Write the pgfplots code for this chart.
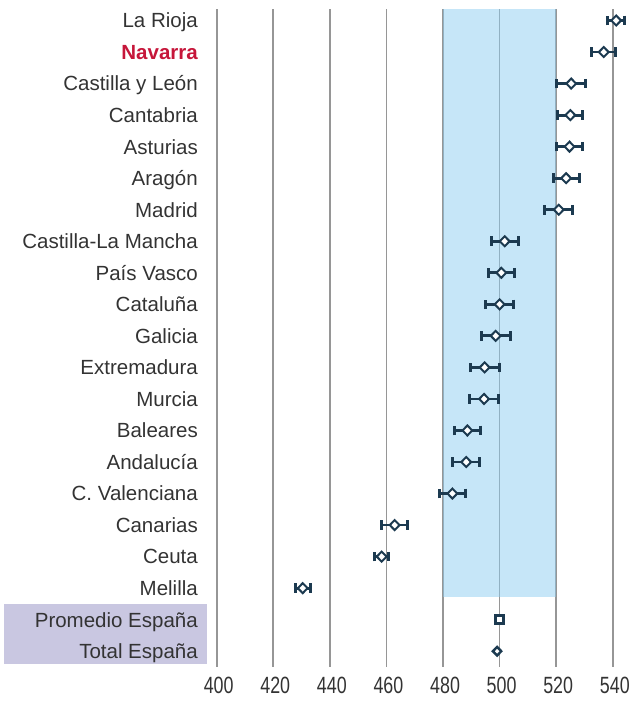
\documentclass[border=0pt]{standalone}
\usepackage{pgfplots}
\usepackage{pgfplotstable}
\pgfplotsset{compat=1.18}
\usepackage{fontspec}
\setmainfont{Liberation Sans}
\newfontfamily\tickfont{Liberation Sans}[FakeStretch=0.76]
\definecolor{labgray}{RGB}{51,51,51}
\definecolor{navred}{RGB}{198,22,58}
\definecolor{lav}{RGB}{201,199,225}
\definecolor{band}{RGB}{141,205,241}
\definecolor{gridgray}{RGB}{150,150,150}
\definecolor{navy}{RGB}{28,58,80}

% y = -row (row 0 = La Rioja at the top)
\pgfplotstableread{
y    val    err
0    541.2  3.1
-1   536.8  4.3
-2   525.3  5.1
-3   525.0  4.4
-4   524.7  4.6
-5   523.5  4.6
-6   520.9  4.9
-7   501.8  4.8
-8   500.6  4.7
-9   500.0  5.0
-10  498.6  5.1
-11  494.7  5.1
-12  494.5  5.0
-13  488.6  4.6
-14  488.2  4.8
-15  483.3  4.7
-16  462.9  4.5
-17  458.3  2.5
-18  430.4  2.7
}\regions

\pgfplotstableread{
y    val
-19  500.0
}\promedio

\pgfplotstableread{
y    val
-20  499.1
}\total

\begin{document}
\begin{tikzpicture}
\useasboundingbox (-207pt,-40pt) rectangle (429pt,667pt);
\fill[lav] (-203pt,3pt) rectangle (0pt,63pt);
\begin{axis}[
  at={(0pt,0pt)}, anchor=south west,
  scale only axis, width=429pt, height=658pt,
  xmin=396.57, xmax=548.2, ymin=-20.5, ymax=0.365,
  axis line style={draw=none}, major tick length=0pt,
  xtick={400,420,...,540},
  xticklabels={400,420,440,460,480,500,520,540},
  ytick={-20,-19,...,0},
  yticklabels={Total España, Promedio España, Melilla, Ceuta, Canarias,
    C. Valenciana, Andalucía, Baleares, Murcia, Extremadura, Galicia,
    Cataluña, País Vasco, Castilla-La Mancha, Madrid, Aragón, Asturias,
    Cantabria, Castilla y León, {\color{navred}\bfseries Navarra}, La Rioja},
  xmajorgrids, ymajorgrids=false,
  major grid style={gridgray, line width=1.6pt},
  clip=false,
  y tick label style={font=\fontsize{20.5}{24}\selectfont, text=labgray,
    anchor=east, inner sep=0pt, xshift=-9pt, text height=14.7pt, text depth=0pt},
  x tick label style={font=\fontsize{23.5}{27}\selectfont\tickfont, text=labgray,
    anchor=north, inner sep=0pt, yshift=-10pt, xshift=2pt},
]
\addplot[draw=none, fill=band, fill opacity=0.5]
  coordinates {(480,0.365) (520,0.365) (520,-18.272) (480,-18.272)} -- cycle;

\addplot[only marks, mark=diamond*, mark size=5pt, line width=2pt,
  mark options={fill=white, draw=navy, line width=2pt, xscale=1.3},
  error bars/.cd, x dir=both, x explicit, error mark=|,
  error bar style={navy, line width=2.8pt},
  error mark options={navy, line width=3pt, mark size=4.8pt}]
  table[x=val, y=y, x error=err] {\regions};

\addplot[only marks, mark=square*, mark size=4pt, line width=3pt,
  mark options={fill=white, draw=navy, line width=3pt}]
  table[x=val, y=y] {\promedio};

\addplot[only marks, mark=diamond*, mark size=4.3pt, line width=2.4pt,
  mark options={fill=white, draw=navy, line width=2.4pt, xscale=1.3}]
  table[x=val, y=y] {\total};
\end{axis}
\end{tikzpicture}
\end{document}
